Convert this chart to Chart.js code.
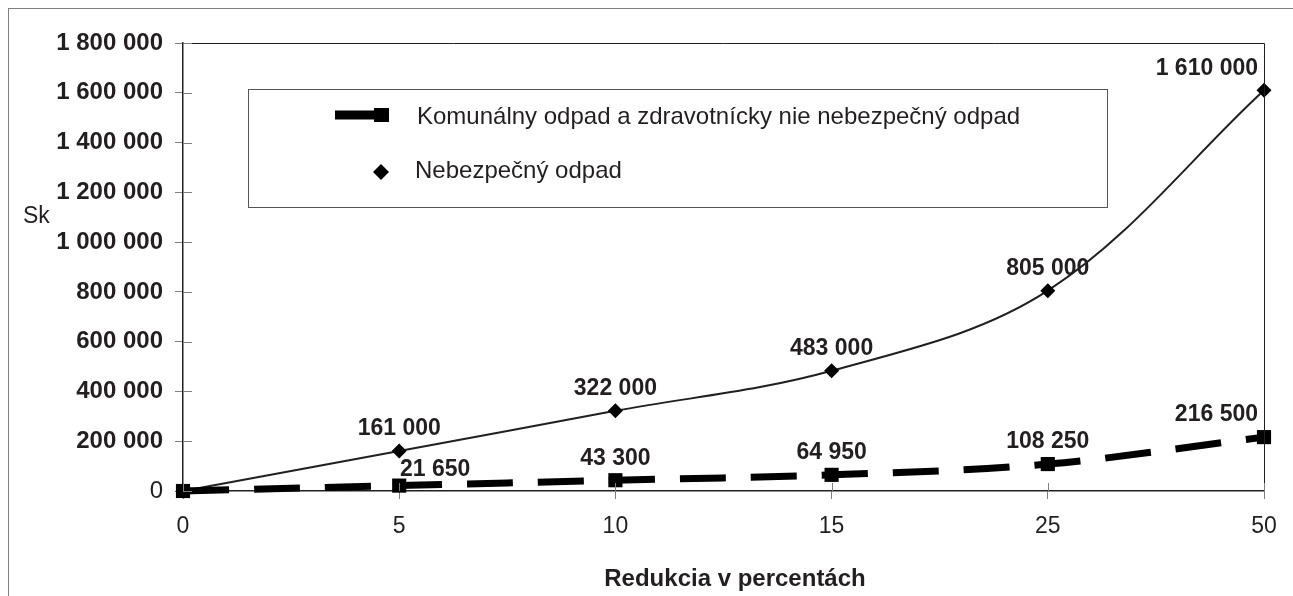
<!DOCTYPE html>
<html lang="sk">
<head>
<meta charset="UTF-8">
<title>Náklady na redukciu odpadu</title>
<script src="https://cdn.jsdelivr.net/npm/chart.js"></script>
<style>
  html, body { margin: 0; padding: 0; background: #fff; }
  .wrap { width: 1293px; height: 596px; }
</style>
</head>
<body>
<div class="wrap"><canvas id="chart" width="1293" height="596"></canvas></div>
<script>
// data
const reductions = ['0', '5', '10', '15', '25', '50'];
const communalWaste = [0, 21650, 43300, 64950, 108250, 216500];
const hazardousWaste = [0, 161000, 322000, 483000, 805000, 1610000];
const seriesNames = ['Komunálny odpad a zdravotnícky nie nebezpečný odpad', 'Nebezpečný odpad'];
const xTitle = 'Redukcia v percentách';
const yUnit = 'Sk';

const ink = '#231f20';
const fontFamily = '"Liberation Sans", Arial, sans-serif';

function fmt(n) {
    return String(n).replace(/\B(?=(\d{3})+(?!\d))/g, ' ');
}

// frame, plot border, inner ticks, legend box, texts and value labels
const decorations = {
    id: 'decorations',
    beforeDraw(chart) {
        const ctx = chart.ctx;
        ctx.save();
        ctx.fillStyle = '#fff';
        ctx.fillRect(0, 0, chart.width, chart.height);
        ctx.strokeStyle = '#808080';
        ctx.lineWidth = 1;
        ctx.strokeRect(8.5, 8.5, chart.width + 20, chart.height + 20);
        ctx.restore();
    },
    afterDatasetsDraw(chart) {
        const ctx = chart.ctx;
        const a = chart.chartArea;
        ctx.save();

        // top and right edges of the plot box
        ctx.strokeStyle = ink;
        ctx.lineWidth = 1;
        ctx.beginPath();
        ctx.moveTo(a.left, a.top + 0.5);
        ctx.lineTo(a.right + 0.5, a.top + 0.5);
        ctx.lineTo(a.right + 0.5, a.bottom);
        ctx.stroke();

        // tick marks crossing into the plot
        ctx.strokeStyle = '#808080';
        chart.scales.y.ticks.forEach((t, i) => {
            const y = Math.round(chart.scales.y.getPixelForTick(i)) + 0.5;
            ctx.beginPath();
            ctx.moveTo(a.left, y);
            ctx.lineTo(a.left + 9, y);
            ctx.stroke();
        });
        chart.scales.x.ticks.forEach((t, i) => {
            const x = Math.round(chart.scales.x.getPixelForTick(i)) + 0.5;
            ctx.beginPath();
            ctx.moveTo(x, a.bottom);
            ctx.lineTo(x, a.bottom - 8);
            ctx.stroke();
        });

        // value labels (the 21 650 label was nudged aside in the original)
        ctx.fillStyle = ink;
        ctx.font = 'bold 23px ' + fontFamily;
        ctx.textAlign = 'center';
        ctx.textBaseline = 'middle';
        chart.data.datasets.forEach((ds, di) => {
            const meta = chart.getDatasetMeta(di);
            meta.data.forEach((pt, i) => {
                const v = ds.data[i];
                if (!v) return;
                const txt = fmt(v);
                const w = ctx.measureText(txt).width;
                let x = pt.x;
                let y = pt.y - 22;
                if (di === 0 && i === 1) { x += 36; y = pt.y - 16; }
                if (x + w / 2 > a.right - 6) x = a.right - 6 - w / 2;
                ctx.fillText(txt, x, y);
            });
        });

        // legend box
        const lx = 248, ly = 89, lw = 859, lh = 118;
        ctx.fillStyle = '#fff';
        ctx.fillRect(lx, ly, lw, lh);
        ctx.strokeStyle = '#555';
        ctx.lineWidth = 1;
        ctx.strokeRect(lx + 0.5, ly + 0.5, lw, lh);

        ctx.fillStyle = '#000';
        ctx.strokeStyle = '#000';
        ctx.lineWidth = 9;
        ctx.beginPath();
        ctx.moveTo(335, 115);
        ctx.lineTo(385, 115);
        ctx.stroke();
        ctx.fillRect(374, 108, 15, 14);

        ctx.beginPath();
        ctx.moveTo(381, 164);
        ctx.lineTo(389, 172);
        ctx.lineTo(381, 180);
        ctx.lineTo(373, 172);
        ctx.closePath();
        ctx.fill();

        ctx.fillStyle = ink;
        ctx.font = '24px ' + fontFamily;
        ctx.textAlign = 'left';
        ctx.fillText(seriesNames[0], 417, 117);
        ctx.fillText(seriesNames[1], 415, 171);

        // horizontal unit label
        ctx.font = '23px ' + fontFamily;
        ctx.fillText(yUnit, 23, 217);

        // x axis title
        ctx.font = 'bold 24px ' + fontFamily;
        ctx.textAlign = 'center';
        ctx.fillText(xTitle, 735, 579);

        ctx.restore();
    }
};

new Chart(document.getElementById('chart'), {
    type: 'line',
    data: {
        labels: reductions,
        datasets: [{
            label: seriesNames[0],
            data: communalWaste,
            borderColor: '#000',
            backgroundColor: '#000',
            borderWidth: 7,
            borderDash: [46, 25],
            tension: 0.35,
            pointStyle: 'rect',
            pointRadius: 10,
            pointBorderWidth: 0,
            clip: false
        }, {
            label: seriesNames[1],
            data: hazardousWaste,
            borderColor: ink,
            backgroundColor: '#000',
            borderWidth: 2,
            tension: 0.35,
            pointStyle: 'rectRot',
            pointRadius: 7.5,
            pointBorderWidth: 0,
            clip: false
        }]
    },
    options: {
        responsive: false,
        animation: false,
        devicePixelRatio: 1,
        layout: { padding: { top: 43, right: 29, left: 0, bottom: 0 } },
        plugins: {
            legend: { display: false },
            tooltip: { enabled: false }
        },
        scales: {
            x: {
                offset: false,
                grid: { drawOnChartArea: false, tickLength: 8, color: '#808080' },
                border: { color: ink, width: 1.5 },
                ticks: { color: ink, padding: 14, maxRotation: 0, font: { family: fontFamily, size: 23 } },
                afterFit(scale) { scale.height = 105; }
            },
            y: {
                min: 0,
                max: 1800000,
                grid: { drawOnChartArea: false, tickLength: 8, color: '#808080' },
                border: { color: ink, width: 1.5 },
                ticks: {
                    stepSize: 200000,
                    color: ink,
                    padding: 12,
                    // the zero label is not bold in the original
                    font: c => ({ family: fontFamily, size: 24, weight: c.tick && c.tick.value === 0 ? 'normal' : 'bold' }),
                    callback: v => fmt(v)
                },
                afterFit(scale) { scale.width = 183; }
            }
        }
    },
    plugins: [decorations]
});
</script>
</body>
</html>
